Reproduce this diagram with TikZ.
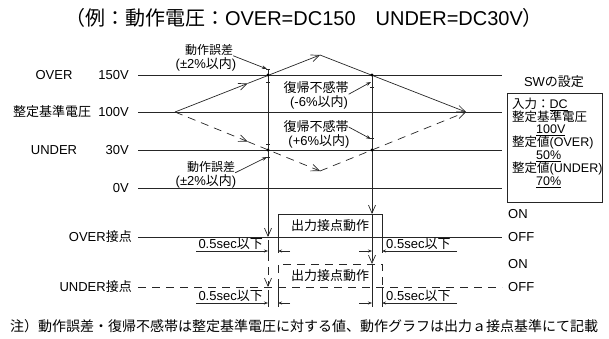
\documentclass[tikz,border=0pt]{standalone}
\usepackage{fontspec}
\setmainfont{Liberation Sans}
\newfontfamily\jp{Noto Sans CJK JP}
\usepackage{tikz}
\usetikzlibrary{arrows.meta,calc}

\begin{document}
\begin{tikzpicture}[x=1pt, y=-1pt, >={Stealth[length=5pt,width=3.5pt]},
    ln/.style={line width=0.7pt, draw=black!85},
    dln/.style={line width=0.7pt, draw=black!85, dash pattern=on 8pt off 6pt},
    barb/.style={-{Straight Barb[length=8pt,width=7pt]}},
    dimarr/.style={-{Stealth[length=4pt,width=3pt]}},
    lbl/.style={inner sep=0pt, font=\fontsize{13}{15}\selectfont},
    note/.style={inner sep=0pt, font=\fontsize{13}{14}\selectfont},
    smallnote/.style={inner sep=0pt, font=\fontsize{12}{13}\selectfont},
    swline/.style={inner sep=0pt, anchor=west, font=\fontsize{12.5}{13}\selectfont},
    dot/.style={circle, fill=black, inner sep=0pt, minimum size=3.2pt}]
    \useasboundingbox (0,0) rectangle (609,338);

    \node [inner sep=0pt, font=\fontsize{20}{22}\selectfont] (title) at (304,18) {{\jp （例：動作電圧：}OVER=DC150{\jp 　}UNDER=DC30V{\jp ）}};

    \node [lbl] (over) at (54,75) {OVER};
    \node [lbl] (ref) at (52,112) {\jp 整定基準電圧};
    \node [lbl] (under) at (54,150) {UNDER};
    \node [lbl, anchor=east] (v150) at (129,75) {150V};
    \node [lbl, anchor=east] (v100) at (129,112) {100V};
    \node [lbl, anchor=east] (v30) at (129,150) {30V};
    \node [lbl, anchor=east] (v0) at (129,188) {0V};
    \coordinate (l150) at (138,75);  \coordinate (r150) at (502,75);
    \coordinate (l100) at (138,112); \coordinate (r100) at (502,112);
    \coordinate (l30) at (138,150);  \coordinate (r30) at (502,150);
    \coordinate (l0) at (138,188);   \coordinate (r0) at (502,188);
    \draw [ln] (l150) -- (r150);
    \draw [ln] (l100) -- (r100);
    \draw [ln] (l30) -- (r30);
    \draw [ln] (l0) -- (r0);

    \coordinate (start) at (175,112);
    \coordinate (peak) at (320,55);
    \coordinate (valley) at (320,171);
    \coordinate (finish) at (466,112);
    \draw [ln, barb] (start) -- ($(start)!.5!(peak)$);
    \draw [ln, barb] ($(start)!.5!(peak)$) -- (peak);
    \draw [ln, barb] (peak) -- (finish);
    \draw [dln, barb] (start) -- ($(start)!.5!(valley)$);
    \draw [dln, barb] ($(start)!.5!(valley)$) -- (valley);
    \draw [dln, barb] (valley) -- (finish);

    \coordinate (optop) at (268,69);
    \coordinate (opov) at (268,237);
    \coordinate (rsov) at (372,75);
    \coordinate (rsovon) at (372,214);
    \draw [ln, barb] (optop) -- (opov);
    \draw [ln, barb] (rsov) -- (rsovon);
    \draw [ln] (266,69) -- (270,69);
    \draw [ln] (266,82) -- (270,82);
    \draw [ln] (370,87) -- (374,87);
    \draw [ln] (266,144) -- (270,144);
    \draw [ln] (266,157) -- (270,157);
    \draw [ln] (370,138) -- (374,138);
    \node [dot] (d1) at (268,75) {};
    \node [dot] (d2) at (372,75) {};
    \node [dot] (d3) at (268,150) {};
    \node [dot] (d4) at (372,150) {};

    \node [smallnote] (err1) at (209,50) {\jp 動作誤差};
    \node [note] (err1b) at (206,64) {(±2\%{\jp 以内})};
    \node [smallnote] (err2) at (211,167) {\jp 動作誤差};
    \node [note] (err2b) at (206,181) {(±2\%{\jp 以内})};
    \node [note] (rst1) at (316,88) {\jp 復帰不感帯};
    \node [note] (rst1b) at (319,102) {(-6\%{\jp 以内})};
    \node [note] (rst2) at (316,127) {\jp 復帰不感帯};
    \node [note] (rst2b) at (319,141) {(+6\%{\jp 以内})};
    \draw [ln, ->] (err1.south east) -- (267,69);
    \draw [ln, ->] (err2.south east) -- (267,157);
    \draw [ln, ->] (rst1.south east) -- (371,82);
    \draw [ln, ->] (rst2.east) -- (371,139);

    \node [lbl] (swt) at (554,82) {SW{\jp の設定}};
    \node [ln, draw, inner sep=0pt, minimum width=95pt, minimum height=109pt] (swbox) at (554.5,147.5) {};
    \node [swline] (sw1) at (512,104) {{\jp 入力：}\underline{DC}};
    \node [swline] (sw2) at (512,117) {\jp 整定基準電圧};
    \node [swline] (sw3) at (536,130) {\underline{100V}};
    \node [swline] (sw4) at (512,143) {{\jp 整定値}(OVER)};
    \node [swline] (sw5) at (536,156) {\underline{50\%}};
    \node [swline] (sw6) at (512,169) {{\jp 整定値}(UNDER)};
    \node [swline] (sw7) at (536,182) {\underline{70\%}};

    \node [lbl, anchor=east] (ovc) at (132,237) {OVER{\jp 接点}};
    \node [lbl, anchor=east] (unc) at (132,287) {UNDER{\jp 接点}};
    \node [lbl, anchor=west] (on1) at (508,214) {ON};
    \node [lbl, anchor=west] (off1) at (508,237) {OFF};
    \node [lbl, anchor=west] (on2) at (508,264) {ON};
    \node [lbl, anchor=west] (off2) at (508,287) {OFF};

    \draw [ln] (138,237) -- (502,237);
    \draw [ln] (278,237) -- (278,214) -- (382,214) -- (382,237);
    \node [lbl] (act1) at (330,226) {\jp 出力接点動作};
    \draw [ln] (268,240) -- (268,253);
    \draw [ln] (278,237) -- (278,253);
    \draw [ln] (372,214) -- (372,253);
    \draw [ln] (382,237) -- (382,253);
    \draw [ln, dimarr] (196,251) -- (268,251);
    \draw [ln, dimarr] (290,251) -- (278,251);
    \draw [ln, dimarr] (359,251) -- (372,251);
    \draw [ln, dimarr] (457,251) -- (382,251);
    \node [lbl, anchor=south east] (t1) at (263,250) {0.5sec{\jp 以下}};
    \node [lbl, anchor=south west] (t2) at (386,250) {0.5sec{\jp 以下}};

    \draw [dln] (138,287) -- (502,287);
    \draw [dln] (278,287) -- (278,264) -- (382,264) -- (382,287);
    \node [lbl] (act2) at (330,276) {\jp 出力接点動作};
    \draw [dln, barb] (268,253) -- (268,287);
    \draw [dln, barb] (372,253) -- (372,264);
    \draw [ln] (268,290) -- (268,307);
    \draw [ln] (278,287) -- (278,307);
    \draw [ln] (372,264) -- (372,307);
    \draw [ln] (382,287) -- (382,307);
    \draw [ln, dimarr] (196,303) -- (268,303);
    \draw [ln, dimarr] (290,303) -- (278,303);
    \draw [ln, dimarr] (359,303) -- (372,303);
    \draw [ln, dimarr] (457,303) -- (382,303);
    \node [lbl, anchor=south east] (t3) at (263,302) {0.5sec{\jp 以下}};
    \node [lbl, anchor=south west] (t4) at (386,302) {0.5sec{\jp 以下}};

    \node [inner sep=0pt, font=\fontsize{14}{16}\selectfont] (fn) at (304,326) {\jp 注）動作誤差・復帰不感帯は整定基準電圧に対する値、動作グラフは出力ａ接点基準にて記載};
\end{tikzpicture}
\end{document}
